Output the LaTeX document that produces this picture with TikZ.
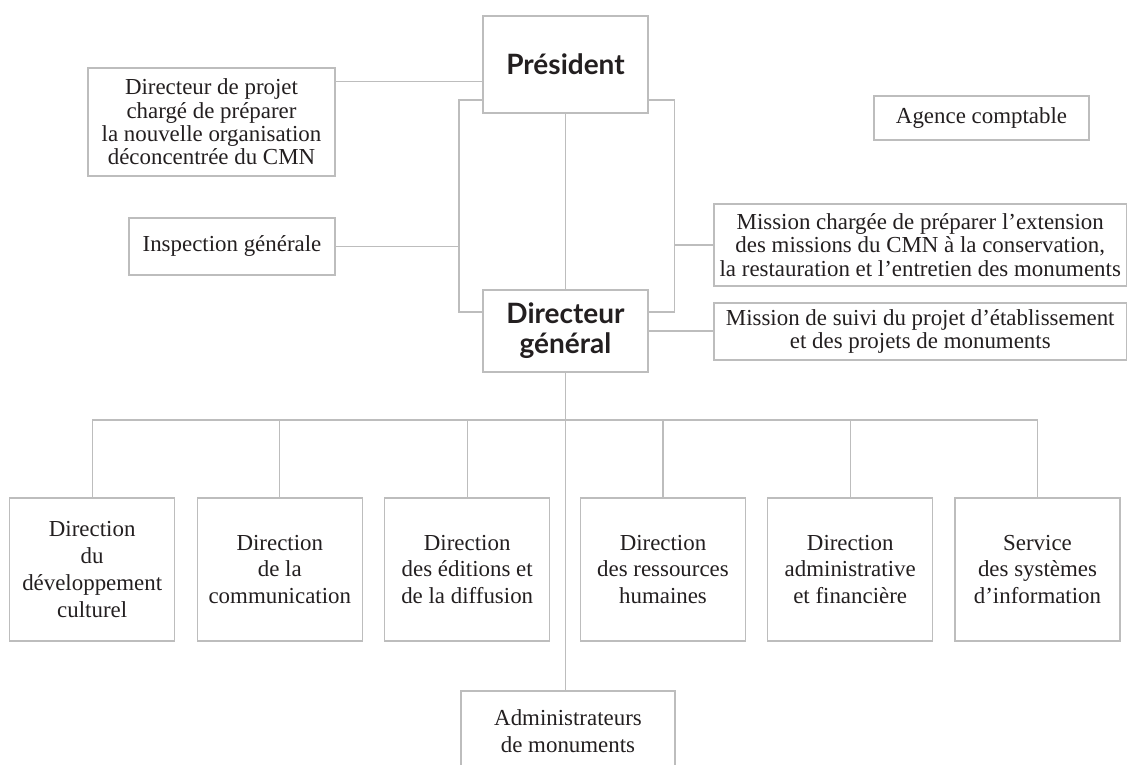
\documentclass[tikz,border=0pt]{standalone}
\usepackage{fontspec}
\setmainfont{Liberation Serif}
\newfontfamily\titlefont{Lato}
\definecolor{linegray}{HTML}{BDBDBD}
\definecolor{ink}{HTML}{231F20}
\tikzset{
  orgbox/.style={draw=linegray, line width=1.3pt, rectangle, inner sep=0pt,
    align=center, text=ink, font=\fontsize{22.9}{23.4}\selectfont},
  dirbox/.style={orgbox, font=\fontsize{22.9}{26.7}\selectfont,
    minimum width=165pt, minimum height=143pt},
  headbox/.style={orgbox, font=\titlefont\bfseries\fontsize{28}{30}\selectfont},
  link/.style={draw=linegray, line width=1.3pt},
}
\begin{document}
\begin{tikzpicture}[x=1pt,y=-1pt]
\clip (0,0) rectangle (1128,765);
\fill[white] (0,0) rectangle (1128,765);

% top level
\node[headbox, minimum width=165pt, minimum height=97pt] (pres) at (565.5,64.5) {Président};
\node[headbox, minimum width=165pt, minimum height=82pt] (dg) at (565.5,331) {Directeur\\général};

\node[orgbox, minimum width=247pt, minimum height=108pt] (proj) at (211.5,122)
  {Directeur de projet\\chargé de préparer\\la nouvelle organisation\\déconcentrée du CMN};
\node[orgbox, minimum width=206pt, minimum height=57pt] (insp) at (232,246.5) {Inspection générale};
\node[orgbox, minimum width=215pt, minimum height=44pt] (agence) at (981.5,118) {Agence comptable};
\node[orgbox, minimum width=412.5pt, minimum height=82pt] (mis1) at (920.25,245)
  {Mission chargée de préparer l’extension\\des missions du CMN à la conservation,\\la restauration et l’entretien des monuments};
\node[orgbox, minimum width=412.5pt, minimum height=57pt] (mis2) at (920.25,331.5)
  {Mission de suivi du projet d’établissement\\et des projets de monuments};

% directions
\node[dirbox] (d1) at (92.2,569.5) {Direction\\du\\développement\\culturel};
\node[dirbox] (d2) at (279.8,569.5) {Direction\\de la\\communication};
\node[dirbox] (d3) at (467.2,569.5) {Direction\\des éditions et\\de la diffusion};
\node[dirbox] (d4) at (663,569.5) {Direction\\des ressources\\humaines};
\node[dirbox] (d5) at (850.2,569.5) {Direction\\administrative\\et financière};
\node[dirbox] (d6) at (1037.5,569.5) {Service\\des systèmes\\d’information};
\node[orgbox, font=\fontsize{22.9}{27.3}\selectfont, minimum width=214pt, minimum height=80pt] (adm) at (568,731) {Administrateurs\\de monuments};

% helper coordinates
\coordinate (pjy) at (0,81.7);
\coordinate (brtop) at (0,100);
\coordinate (brbot) at (0,312);
\coordinate (lbr) at (459,0);
\coordinate (rbr) at (674.7,0);
\coordinate (bar) at (565.5,420);

% connectors
\draw[link] (proj.east |- pjy) -- (pres.west |- pjy);
\draw[link] (pres.west |- brtop) -- (lbr |- brtop) -- (lbr |- brbot) -- (dg.west |- brbot);
\draw[link] (pres.east |- brtop) -- (rbr |- brtop) -- (rbr |- brbot) -- (dg.east |- brbot);
\draw[link] (insp.east) -- (lbr |- insp.east);
\draw[link] (rbr |- mis1.west) -- (mis1.west);
\draw[link] (pres.south) -- (dg.north);
\draw[link] (dg.east) -- (dg.east -| mis2.west);
\draw[link] (dg.south) -- (dg.south |- adm.north);
\draw[link] (d1.north) |- (bar);
\draw[link] (d2.north) -- (d2.north |- bar);
\draw[link] (d3.north) -- (d3.north |- bar);
\draw[link] (d4.north) -- (d4.north |- bar);
\draw[link] (d5.north) -- (d5.north |- bar);
\draw[link] (d6.north) |- (bar);
\end{tikzpicture}
\end{document}
